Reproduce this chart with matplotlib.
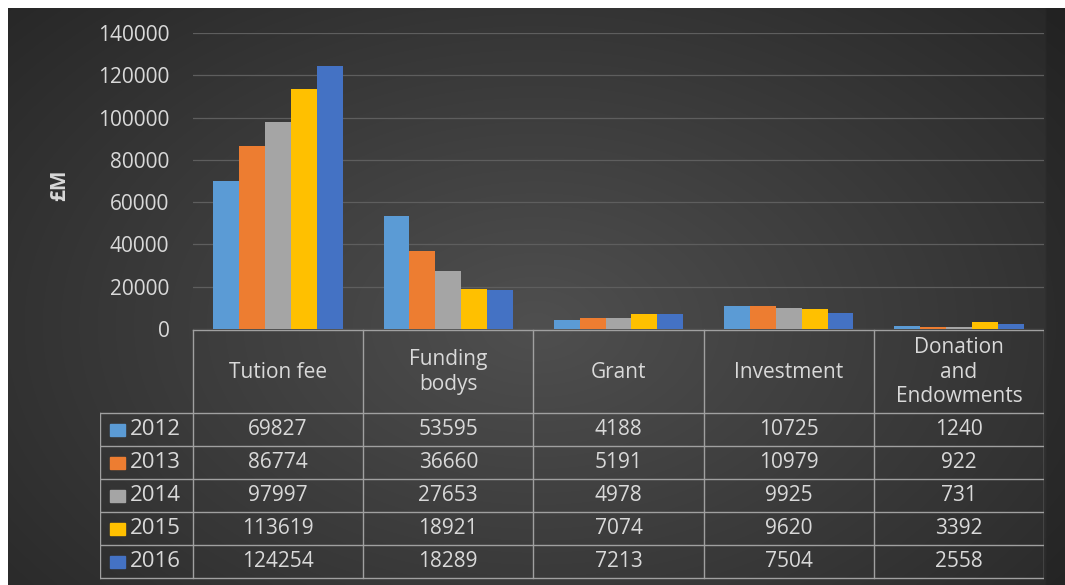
import matplotlib.pyplot as plt
import numpy as np

# Data
categories = ['Tution fee', 'Funding\nbodys', 'Grant', 'Investment', 'Donation\nand\nEndowments']
years = ['2012', '2013', '2014', '2015', '2016']
v2012 = [69827, 53595, 4188, 10725, 1240]
v2013 = [86774, 36660, 5191, 10979, 922]
v2014 = [97997, 27653, 4978, 9925, 731]
v2015 = [113619, 18921, 7074, 9620, 3392]
v2016 = [124254, 18289, 7213, 7504, 2558]
series = [v2012, v2013, v2014, v2015, v2016]
colors = ['#5b9bd5', '#ed7d31', '#a5a5a5', '#ffc000', '#4472c4']
yticks = [0, 20000, 40000, 60000, 80000, 100000, 120000, 140000]

W, H = 1065, 585
fig = plt.figure(figsize=(W / 100, H / 100), dpi=100)
fig.patch.set_facecolor('white')
plt.rcParams['font.family'] = ['Open Sans', 'DejaVu Sans']
txt = '#d9d9d9'
line_c = '#a0a0a0'
fs = 15

def px(x0, y0, x1, y1):
    # pixel box (top-left origin) -> figure fraction rect
    return [x0 / W, 1 - y1 / H, (x1 - x0) / W, (y1 - y0) / H]

# dark radial background
bg = fig.add_axes(px(8, 8, W, H))
yy, xx = np.mgrid[0:1:300j, 0:1:500j]
r = np.sqrt(((xx - 0.5) / 0.75) ** 2 + ((yy - 0.55) / 0.9) ** 2)
shade = np.clip(0.31 - 0.17 * r, 0.15, 0.31)
shade[:, xx[0] > 0.983] *= 0.85
bg.imshow(np.dstack([shade] * 3), aspect='auto', extent=[0, 1, 0, 1], interpolation='bilinear')
bg.axis('off')

# bars
left, right, top, zero = 193, 1044, 33, 329
ax = fig.add_axes(px(left, top, right, zero))
ax.patch.set_alpha(0)
n = len(series)
x = np.arange(len(categories))
bw = 0.76 / n
for i, (vals, c) in enumerate(zip(series, colors)):
    ax.bar(x + (i - (n - 1) / 2) * bw, vals, bw, color=c, zorder=3)
ax.set_xlim(-0.5, len(categories) - 0.5)
ax.set_ylim(0, 140000)
ax.set_yticks(yticks)
ax.set_yticklabels([str(t) for t in yticks], color=txt, fontsize=fs)
ax.tick_params(axis='y', length=0, pad=17)
ax.set_xticks([])
ax.grid(axis='y', color='#5e5e5e', linewidth=0.9, zorder=0)
for s in ax.spines.values():
    s.set_visible(False)
fig.text(60 / W, 1 - 185 / H, '£M', color=txt, fontsize=fs, fontweight='bold',
         rotation=90, ha='center', va='center')

# data table
tl, hdr_bot, row_h = 100, 413, 33
tab = fig.add_axes(px(tl, zero, right, H))
tab.set_xlim(tl, right)
tab.set_ylim(H, zero)
tab.axis('off')
col_w = (right - left) / len(categories)
rows_bot = hdr_bot + row_h * n
tab.plot([left, right], [zero + 1, zero + 1], color=line_c, lw=1)
for k in range(len(categories) + 1):
    xc = left + k * col_w
    tab.plot([xc, xc], [zero + 1, rows_bot], color=line_c, lw=1)
tab.plot([tl, tl], [hdr_bot, rows_bot], color=line_c, lw=1)
for j in range(n + 1):
    yl = hdr_bot + j * row_h
    tab.plot([tl, right], [yl, yl], color=line_c, lw=1)
for k, cat in enumerate(categories):
    tab.text(left + (k + 0.5) * col_w, (zero + hdr_bot) / 2 + 1, cat, color=txt,
             fontsize=fs, ha='center', va='center', linespacing=1.2)
for j, (yr, vals, c) in enumerate(zip(years, series, colors)):
    yc = hdr_bot + (j + 0.5) * row_h
    tab.add_patch(plt.Rectangle((110, yc - 6), 15, 12, color=c))
    tab.text(130, yc, yr, color=txt, fontsize=fs + 1, ha='left', va='center')
    for k, v in enumerate(vals):
        tab.text(left + (k + 0.5) * col_w, yc, str(v), color=txt, fontsize=fs,
                 ha='center', va='center')

plt.savefig('out.png', dpi=100, facecolor='white')
